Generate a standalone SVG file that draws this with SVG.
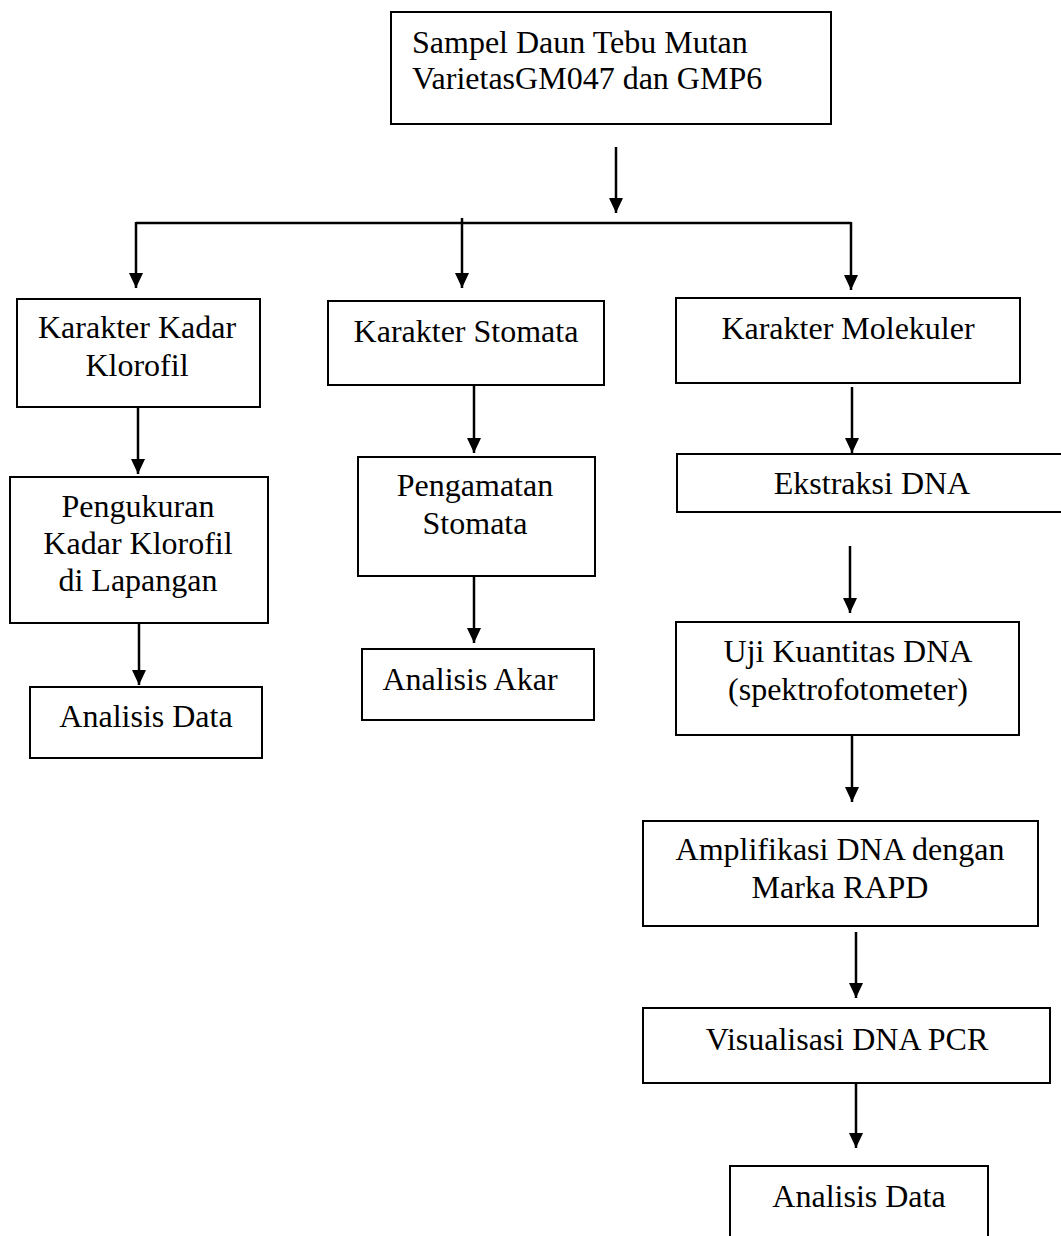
<svg xmlns="http://www.w3.org/2000/svg" width="1061" height="1236" viewBox="0 0 1061 1236">
<style>
.box{fill:#fff;stroke:#000;stroke-width:2}
.t{font-family:"Liberation Serif","Times New Roman",serif;font-size:32px;fill:#000}
.c{text-anchor:middle}
.ln{stroke:#000;stroke-width:2.5;fill:none}
</style>
<defs>
<marker id="ah" markerUnits="userSpaceOnUse" markerWidth="16" markerHeight="16" viewBox="0 0 16 16" refX="15" refY="7.5" orient="auto">
<path d="M0,0.5 L15,7.5 L0,14.5 z" fill="#000"/>
</marker>
</defs>
<rect width="1061" height="1236" fill="#fff"/>
<g id="connectors">
<line class="ln" x1="136" y1="223" x2="851" y2="223"/>
<line class="ln" x1="616" y1="147" x2="616" y2="213" marker-end="url(#ah)"/>
<line class="ln" x1="136" y1="222" x2="136" y2="288" marker-end="url(#ah)"/>
<line class="ln" x1="462" y1="218" x2="462" y2="288" marker-end="url(#ah)"/>
<line class="ln" x1="851" y1="222" x2="851" y2="290" marker-end="url(#ah)"/>
<line class="ln" x1="138" y1="407" x2="138" y2="474" marker-end="url(#ah)"/>
<line class="ln" x1="474" y1="385" x2="474" y2="453" marker-end="url(#ah)"/>
<line class="ln" x1="852" y1="387" x2="852" y2="453" marker-end="url(#ah)"/>
<line class="ln" x1="139" y1="623" x2="139" y2="685" marker-end="url(#ah)"/>
<line class="ln" x1="474" y1="576" x2="474" y2="643" marker-end="url(#ah)"/>
<line class="ln" x1="850" y1="546" x2="850" y2="613" marker-end="url(#ah)"/>
<line class="ln" x1="852" y1="735" x2="852" y2="802" marker-end="url(#ah)"/>
<line class="ln" x1="856" y1="932" x2="856" y2="998" marker-end="url(#ah)"/>
<line class="ln" x1="856" y1="1083" x2="856" y2="1148" marker-end="url(#ah)"/>
</g>
<g id="n-sampel">
<rect class="box" x="391" y="12" width="440" height="112"/>
<text class="t" x="412" y="53">Sampel Daun Tebu Mutan</text>
<text class="t" x="412" y="89">VarietasGM047 dan GMP6</text>
</g>
<g id="n-klorofil">
<rect class="box" x="17" y="299" width="243" height="108"/>
<text class="t c" x="137" y="338">Karakter Kadar</text>
<text class="t c" x="137" y="376">Klorofil</text>
</g>
<g id="n-stomata">
<rect class="box" x="328" y="301" width="276" height="84"/>
<text class="t c" x="466" y="342">Karakter Stomata</text>
</g>
<g id="n-molekuler">
<rect class="box" x="676" y="298" width="344" height="85"/>
<text class="t c" x="848" y="339">Karakter Molekuler</text>
</g>
<g id="n-pengukuran">
<rect class="box" x="10" y="477" width="258" height="146"/>
<text class="t c" x="138" y="517">Pengukuran</text>
<text class="t c" x="138" y="554">Kadar Klorofil</text>
<text class="t c" x="138" y="591">di Lapangan</text>
</g>
<g id="n-pengamatan">
<rect class="box" x="358" y="457" width="237" height="119"/>
<text class="t c" x="475" y="496">Pengamatan</text>
<text class="t c" x="475" y="534">Stomata</text>
</g>
<g id="n-analisis-data-1">
<rect class="box" x="30" y="687" width="232" height="71"/>
<text class="t c" x="146" y="727">Analisis Data</text>
</g>
<g id="n-analisis-akar">
<rect class="box" x="362" y="649" width="232" height="71"/>
<text class="t c" x="470" y="690">Analisis Akar</text>
</g>
<g id="n-ekstraksi">
<rect class="box" x="677" y="454" width="390" height="58"/>
<text class="t c" x="872" y="494">Ekstraksi DNA</text>
</g>
<g id="n-uji">
<rect class="box" x="676" y="622" width="343" height="113"/>
<text class="t c" x="848" y="662">Uji Kuantitas DNA</text>
<text class="t c" x="848" y="700">(spektrofotometer)</text>
</g>
<g id="n-amplifikasi">
<rect class="box" x="643" y="821" width="395" height="105"/>
<text class="t c" x="840" y="860">Amplifikasi DNA dengan</text>
<text class="t c" x="840" y="898">Marka RAPD</text>
</g>
<g id="n-visualisasi">
<rect class="box" x="643" y="1008" width="407" height="75"/>
<text class="t c" x="847" y="1050">Visualisasi DNA PCR</text>
</g>
<g id="n-analisis-data-2">
<rect class="box" x="730" y="1166" width="258" height="80"/>
<text class="t c" x="859" y="1207">Analisis Data</text>
</g>
</svg>
